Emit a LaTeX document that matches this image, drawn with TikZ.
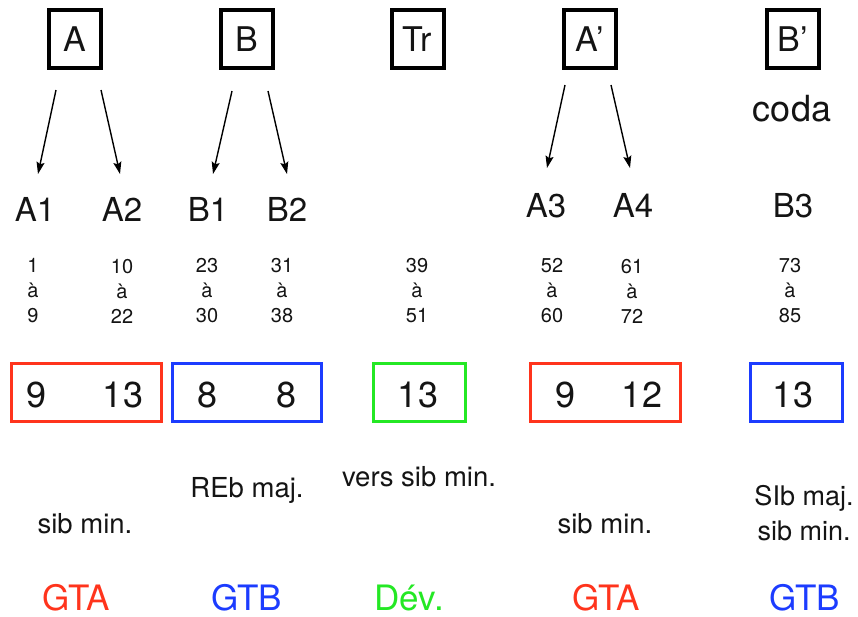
\documentclass[tikz,border=0pt]{standalone}
\usepackage{fontspec}
\setmainfont{TeX Gyre Heros}
\usetikzlibrary{arrows.meta}
\definecolor{cred}{RGB}{255,52,28}
\definecolor{cblue}{RGB}{28,60,255}
\definecolor{cgreen}{RGB}{36,232,36}
\definecolor{ink}{RGB}{20,20,20}
\tikzset{
  secbox/.style={draw=black, line width=4pt, minimum width=52pt, minimum height=58pt, inner sep=0pt, font=\fontsize{34}{34}\selectfont, text=ink},
  sublbl/.style={anchor=base, inner sep=0pt, font=\fontsize{33}{33}\selectfont, text=ink},
  bars/.style={align=center, inner sep=0pt, font=\fontsize{20}{25}\selectfont, text=ink},
  cntbox/.style={line width=3pt, inner sep=0pt, minimum height=58pt},
  cnt/.style={anchor=base, inner sep=0pt, font=\fontsize{36}{36}\selectfont, text=ink},
  keytxt/.style={anchor=base, inner sep=0pt, font=\fontsize{27.5}{27.5}\selectfont, text=ink},
  grp/.style={anchor=base, inner sep=0pt, font=\fontsize{35}{35}\selectfont},
  arr/.style={line width=1.4pt, -{Stealth[length=12pt,width=8pt,inset=2pt]}}
}
\begin{document}
\begin{tikzpicture}[x=1pt,y=-1pt]
\useasboundingbox[fill=white] (0,0) rectangle (858,616);
% section boxes
\node[secbox] (A)  at (75,39)    {A};
\node[secbox] (B)  at (247,39)   {B};
\node[secbox] (Tr) at (417.5,39) {Tr};
\node[secbox] (Ap) at (589.5,39) {A’};
\node[secbox] (Bp) at (792.5,39) {B’};
\node[sublbl, font=\fontsize{36}{36}\selectfont] (coda) at (792,121) {coda};
% sub labels
\node[sublbl] (A1) at (35,221)  {A1};
\node[sublbl] (A2) at (122,221) {A2};
\node[sublbl] (B1) at (208,221) {B1};
\node[sublbl] (B2) at (287,221) {B2};
\node[sublbl] (A3) at (546,217) {A3};
\node[sublbl] (A4) at (633,217) {A4};
\node[sublbl] (B3) at (793,217) {B3};
% arrow end points
\coordinate (a1s) at (56,90);   \coordinate (a1e) at (38,174);
\coordinate (a2s) at (101,90);  \coordinate (a2e) at (120,174);
\coordinate (b1s) at (232,91);  \coordinate (b1e) at (213,174);
\coordinate (b2s) at (268,91);  \coordinate (b2e) at (287,174);
\coordinate (a3s) at (565,85);  \coordinate (a3e) at (547,168);
\coordinate (a4s) at (611,85);  \coordinate (a4e) at (630,168);
\draw[arr] (a1s) -- (a1e);
\draw[arr] (a2s) -- (a2e);
\draw[arr] (b1s) -- (b1e);
\draw[arr] (b2s) -- (b2e);
\draw[arr] (a3s) -- (a3e);
\draw[arr] (a4s) -- (a4e);
% bar ranges
\node[bars] (m1)  at (33,291)  {1\\à\\9};
\node[bars] (m2)  at (122,291) {10\\à\\22};
\node[bars] (m3)  at (207,291) {23\\à\\30};
\node[bars] (m4)  at (282,291) {31\\à\\38};
\node[bars] (m5)  at (417,291) {39\\à\\51};
\node[bars] (m6)  at (552,291) {52\\à\\60};
\node[bars] (m7)  at (632,291) {61\\à\\72};
\node[bars] (m8)  at (790,291) {73\\à\\85};
% count boxes
\node[cntbox, draw=cred,   minimum width=150pt] (r1) at (86.5,392) {};
\node[cntbox, draw=cblue,  minimum width=149pt] (u1) at (247,392)  {};
\node[cntbox, draw=cgreen, minimum width=92pt]  (g1) at (419.5,392) {};
\node[cntbox, draw=cred,   minimum width=150pt] (r2) at (605.5,392) {};
\node[cntbox, draw=cblue,  minimum width=92pt]  (u2) at (796.5,392) {};
\node[cnt] (c1) at (37,407)  {9};
\node[cnt] (c2) at (123,407) {13};
\node[cnt] (c3) at (208,407) {8};
\node[cnt] (c4) at (287,407) {8};
\node[cnt] (c5) at (418,407) {13};
\node[cnt] (c6) at (565,407) {9};
\node[cnt] (c7) at (642,407) {12};
\node[cnt] (c8) at (793,407) {13};
% keys
\node[keytxt] (k1) at (85,533)  {sib min.};
\node[keytxt] (k2) at (247,497) {REb maj.};
\node[keytxt] (k3) at (419,486) {vers sib min.};
\node[keytxt] (k4) at (605,533) {sib min.};
\node[keytxt, anchor=center, align=center, font=\fontsize{27}{35}\selectfont] (k5) at (804,513) {SIb maj.\\sib min.};
% groups
\node[grp, text=cred]   (g1t) at (76,610)  {GTA};
\node[grp, text=cblue]  (g2t) at (247,610) {GTB};
\node[grp, text=cgreen] (g3t) at (409,610) {Dév.};
\node[grp, text=cred]   (g4t) at (606,610) {GTA};
\node[grp, text=cblue]  (g5t) at (805,610) {GTB};
\end{tikzpicture}
\end{document}
